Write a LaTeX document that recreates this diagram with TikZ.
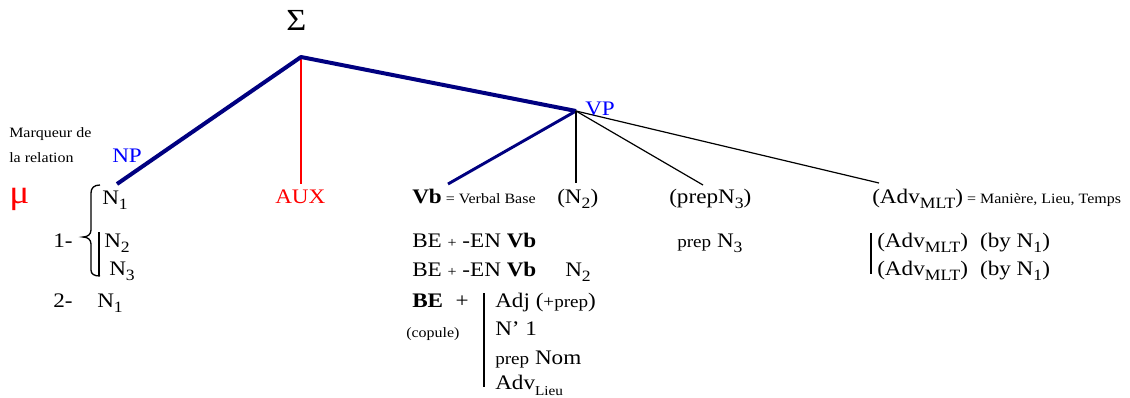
\documentclass[tikz,border=0pt]{standalone}
\usepackage{fontspec}
\setmainfont{Liberation Serif}[FakeStretch=1.12]
\definecolor{navyline}{RGB}{0,0,128}
\definecolor{lblblue}{RGB}{0,0,255}
\definecolor{myred}{RGB}{255,0,0}
\newcommand{\lo}[1]{\raisebox{-0.25em}{\fontsize{11.8}{13}\selectfont #1}}
\newcommand{\lot}[1]{\raisebox{-0.3em}{\fontsize{10.2}{12}\selectfont #1}}
\newcommand{\sm}[1]{{\fontsize{10.7}{12}\selectfont #1}}
\newcommand{\md}[1]{{\fontsize{12.8}{14}\selectfont #1}}
\begin{document}
\begin{tikzpicture}[x=0.75pt,y=-0.75pt,
  txt/.style={inner sep=0pt, anchor=base west, font=\fontsize{15.5}{18}\selectfont},
  small/.style={inner sep=0pt, anchor=base west, font=\fontsize{10.7}{12}\selectfont},
  lbl/.style={txt, text=lblblue},
  redtxt/.style={txt, text=myred},
  mainln/.style={draw=navyline, line width=3pt},
  vbln/.style={draw=navyline, line width=2.2pt},
  redln/.style={draw=myred, line width=1.75pt},
  thinln/.style={draw=black, line width=0.9pt},
  barln/.style={draw=black, line width=2pt}]
\useasboundingbox (0,0) rectangle (1130,397);
% tree points
\coordinate (S) at (301,57);
\coordinate (VP) at (576,111);
\coordinate (npend) at (117,184);
\coordinate (auxend) at (301,184);
\coordinate (vbend) at (448,184);
\coordinate (n2end) at (576,183);
\coordinate (p3end) at (703,185);
\coordinate (advend) at (879,183);
\draw[redln] (S) -- (auxend);
\draw[mainln, line join=round] (npend) -- (S) -- (VP);
\draw[vbln] (VP) -- (vbend);
\draw[thinln] (VP) -- (n2end);
\draw[thinln] (VP) -- (p3end);
\draw[thinln] (VP) -- (advend);
% labels
\node[txt, font=\fontsize{23}{25}\selectfont] (sigma) at (286,30) {Σ};
\node[lbl] (np) at (112,162) {NP};
\node[lbl] (vp) at (585,115) {VP};
\node[redtxt] (aux) at (275,203) {AUX};
\node[small] (m1) at (9,137) {Marqueur de};
\node[small] (m2) at (9,162) {la relation};
\node[redtxt, font=\fontsize{25}{27}\selectfont] (mu) at (9,203) {μ};
% left column
\node[txt] (n1a) at (102,204) {N\lo{1}};
\node[txt] (one) at (53,247) {1-};
\node[txt] (n2a) at (104,247) {N\lo{2}};
\node[txt] (n3a) at (109,275) {N\lo{3}};
\node[txt] (two) at (53,307) {2-};
\node[txt] (n1b) at (97,307) {N\lo{1}};
\draw[line width=1pt] (100,185) .. controls (94,185) and (91,188) .. (91,193) -- (91,230) .. controls (91,234) and (88,237) .. (83,237) .. controls (88,237) and (91,240) .. (91,244) -- (91,270) .. controls (91,274) and (94,276) .. (100,276);
\draw[barln] (99,232) -- (99,276);
% verb column
\node[txt] (vb) at (412,203) {\textbf{Vb}\sm{ = Verbal Base}};
\node[txt] (n2b) at (557,203) {(N\lo{2})};
\node[txt] (pn3) at (669,203) {(prepN\lo{3})};
\node[txt] (adv) at (872,203) {(Adv\lo{MLT})\sm{ = Manière, Lieu, Temps}};
\node[txt] (be1) at (412,247) {BE \sm{+} -EN \textbf{Vb}};
\node[txt] (be2) at (412,276) {BE \sm{+} -EN \textbf{Vb}};
\node[txt] (n2c) at (565,276) {N\lo{2}};
\node[txt] (pn3b) at (677,247) {\md{prep} N\lo{3}};
\node[txt] (adv1) at (877,247) {(Adv\lo{MLT})\hspace{0.3em} (by N\lo{1})};
\node[txt] (adv2) at (877,275) {(Adv\lo{MLT})\hspace{0.3em} (by N\lo{1})};
\draw[barln] (871,233) -- (871,274);
\node[txt] (be3) at (412,307) {\textbf{BE}\hspace{0.6em}+};
\node[small] (cop) at (406,337) {(copule)};
\draw[barln] (484,293) -- (484,387);
\node[txt] (adj) at (495,307) {Adj (\md{+prep})};
\node[txt] (nprime) at (495,335) {N’ 1};
\node[txt] (pnom) at (495,364) {\md{prep} Nom};
\node[txt] (advl) at (495,389) {Adv\lot{Lieu}};
\end{tikzpicture}
\end{document}
